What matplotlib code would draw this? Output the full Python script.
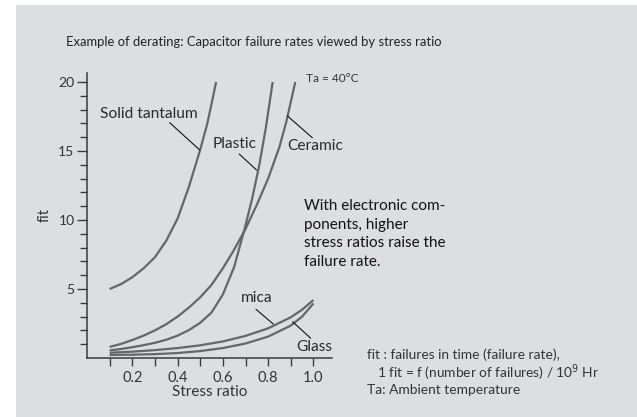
import matplotlib
matplotlib.use("Agg")
import matplotlib.pyplot as plt
from matplotlib.patches import Rectangle
from matplotlib.ticker import FixedLocator

plt.rcParams['font.family'] = ['Lato', 'DejaVu Sans']

# curves (stress ratio -> fit)
x_tant = [0.10, 0.15, 0.20, 0.25, 0.30, 0.35, 0.40, 0.45, 0.50, 0.53, 0.55, 0.57]
y_tant = [5.0, 5.35, 5.85, 6.5, 7.3, 8.5, 10.1, 12.4, 15.1, 16.9, 18.4, 20.0]

x_cer = [0.10, 0.15, 0.20, 0.25, 0.30, 0.35, 0.40, 0.45, 0.50, 0.55, 0.60, 0.65, 0.70,
         0.75, 0.80, 0.85, 0.88, 0.92]
y_cer = [0.80, 1.02, 1.30, 1.62, 2.00, 2.45, 3.00, 3.65, 4.40, 5.30, 6.50, 7.85, 9.35,
         11.1, 13.0, 15.3, 17.1, 20.0]

x_pla = [0.10, 0.15, 0.20, 0.25, 0.30, 0.35, 0.40, 0.45, 0.50, 0.55, 0.60, 0.65, 0.70,
         0.73, 0.76, 0.79, 0.82]
y_pla = [0.55, 0.65, 0.78, 0.93, 1.10, 1.32, 1.62, 2.02, 2.55, 3.30, 4.60, 6.60, 9.60,
         11.6, 13.9, 16.7, 20.0]

x_mica = [0.1, 0.2, 0.3, 0.4, 0.5, 0.6, 0.7, 0.8, 0.9, 0.95, 1.0]
y_mica = [0.38, 0.46, 0.57, 0.72, 0.92, 1.2, 1.6, 2.15, 2.95, 3.5, 4.2]

x_glass = [0.1, 0.2, 0.3, 0.4, 0.5, 0.6, 0.7, 0.8, 0.9, 0.95, 1.0]
y_glass = [0.22, 0.24, 0.28, 0.36, 0.5, 0.72, 1.05, 1.55, 2.35, 3.0, 3.95]

xticks = [0.2, 0.4, 0.6, 0.8, 1.0]
xlabels = ["0.2", "0.4", "0.6", "0.8", "1.0"]
yticks = [5, 10, 15, 20]

W, H = 637, 417
bg = '#dcdfe2'
line_c = '#666666'

fig = plt.figure(figsize=(W / 100, H / 100), dpi=100)
fig.patch.set_facecolor('white')
fig.patches.append(Rectangle((16 / W, 0), 1, 1 - 4.5 / H, transform=fig.transFigure,
                             facecolor=bg, edgecolor='none', zorder=-10))

def px(x, y):
    return x / W, 1 - y / H

ax = fig.add_axes([87 / W, 59 / H, 245 / W, 285 / H])
ax.set_facecolor('none')
ax.set_xlim(0, 1.082)
ax.set_ylim(0, 20.65)

for xs, ys in [(x_tant, y_tant), (x_cer, y_cer), (x_pla, y_pla), (x_mica, y_mica), (x_glass, y_glass)]:
    ax.plot(xs, ys, color=line_c, lw=1.6, solid_capstyle='butt', solid_joinstyle='round')

for s in ['top', 'right']:
    ax.spines[s].set_visible(False)
for s in ['left', 'bottom']:
    ax.spines[s].set_color('#3a3a3a')
    ax.spines[s].set_linewidth(1.1)

ax.set_xticks(xticks)
ax.set_xticklabels(xlabels)
ax.xaxis.set_minor_locator(FixedLocator([0.1, 0.3, 0.5, 0.7, 0.9]))
ax.set_yticks(yticks)
ax.yaxis.set_minor_locator(FixedLocator([v for v in range(1, 21) if v % 5]))
ax.tick_params(axis='y', which='major', length=7, width=1, color='#3a3a3a', pad=2,
               labelsize=10, labelcolor='#333333')
ax.tick_params(axis='y', which='minor', length=5, width=1, color='#3a3a3a')
ax.tick_params(axis='x', which='both', length=6, width=1, color='#3a3a3a', pad=3,
               labelsize=10.5, labelcolor='#333333')

ax.set_xlabel('Stress ratio', fontsize=11, color='#333333', labelpad=0)
ax.set_ylabel('fit', fontsize=10.5, color='#333333', labelpad=5)

# curve labels with leader lines
labels = [
    ("Solid tantalum", (0.059, 17.68), (0.365, 17.05), (0.498, 15.07)),
    ("Plastic", (0.556, 15.5), (0.672, 14.78), (0.749, 13.62)),
    ("Ceramic", (0.886, 15.36), (0.995, 15.96), (0.885, 17.54)),
    ("mica", (0.678, 4.37), (0.746, 3.53), (0.823, 2.46)),
    ("Glass", (0.922, 0.82), (0.988, 1.43), (0.908, 2.63)),
]
for txt, tpos, p0, p1 in labels:
    ax.text(tpos[0], tpos[1], txt, fontsize=11.2, color='#2a2a2a', ha='left', va='center',
            clip_on=False)
    ax.annotate('', xy=p1, xytext=p0,
                arrowprops=dict(arrowstyle='-', color='#111111', lw=0.8,
                                shrinkA=0, shrinkB=0), annotation_clip=False)

fig.text(*px(66, 42), 'Example of derating: Capacitor failure rates viewed by stress ratio',
         fontsize=9.4, color='#222222', ha='left', va='center')
fig.text(*px(306, 78), 'Ta = 40°C', fontsize=8.6, color='#333333', ha='left', va='center')

para = ["With electronic com-", "ponents, higher", "stress ratios raise the", "failure rate."]
for i, line in enumerate(para):
    fig.text(*px(304, 206 + i * 18.7), line, fontsize=11, color='#111111',
             ha='left', va='center')

fig.text(*px(367, 355), 'fit : failures in time (failure rate),', fontsize=9.9,
         color='#333333', ha='left', va='center')
fig.text(*px(377, 373), '1 fit = f (number of failures) / 10$^{9}$ Hr', fontsize=9.9,
         color='#333333', ha='left', va='center')
fig.text(*px(367, 390), 'Ta: Ambient temperature', fontsize=9.9, color='#333333',
         ha='left', va='center')

fig.savefig('out.png', dpi=100, facecolor=fig.get_facecolor())
